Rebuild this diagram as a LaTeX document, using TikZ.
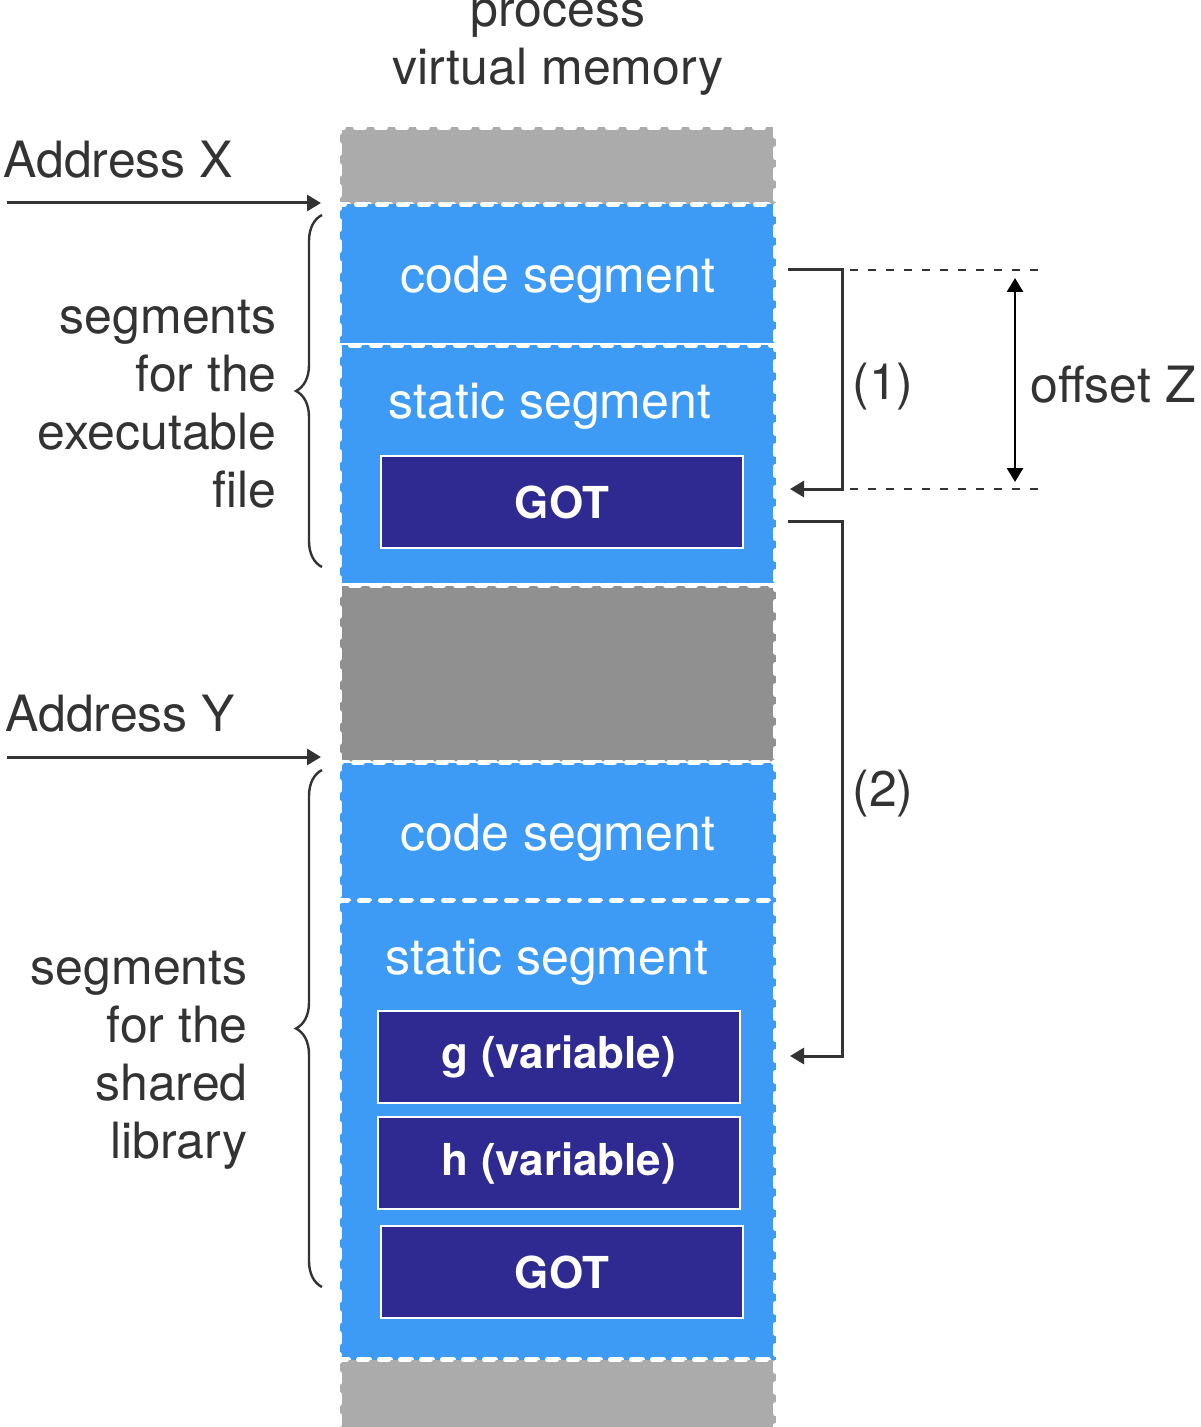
\documentclass[tikz,border=0pt]{standalone}
\usepackage{fontspec}
\setmainfont{TeX Gyre Heros}
\usetikzlibrary{arrows.meta,decorations.pathreplacing,positioning}

\definecolor{segblue}{HTML}{3D9AF5}
\definecolor{gapgray}{HTML}{ABABAB}
\definecolor{holegray}{HTML}{909090}
\definecolor{tblblue}{HTML}{2E2A92}
\definecolor{ink}{HTML}{333333}

\tikzset{
  seg/.style={anchor=north west, inner sep=0pt, minimum width=218pt,
    fill=segblue, draw=white, line width=2.5pt, line cap=round,
    dash pattern=on 4.5pt off 6pt},
  segtext/.style={text=white, inner sep=0pt, font=\fontsize{25}{30}\selectfont},
  tbl/.style={anchor=north west, inner sep=0pt, minimum width=181pt,
    minimum height=46pt, fill=tblblue, draw=white, line width=1pt,
    text=white, font=\bfseries\fontsize{22}{26}\selectfont},
  lbl/.style={text=ink, inner sep=0pt, font=\fontsize{25}{29}\selectfont},
  arr/.style={draw=ink, line width=1.5pt, -{Triangle[length=7pt,width=8pt]}},
  brc/.style={draw=ink, line width=1.2pt, decorate,
    decoration={brace, amplitude=13pt}},
  guide/.style={draw=ink, line width=1pt, dash pattern=on 4pt off 5pt}
}

\begin{document}
\begin{tikzpicture}[x=0.5pt,y=-0.5pt]
\useasboundingbox (0,0) rectangle (1200,1427);

% memory column
\node[seg, fill=gapgray, minimum height=38.5pt] (top) at (337,125) {};
\node[seg, minimum height=70.5pt] (code1) at (337,202) {};
\node[seg, minimum height=120pt] (static1) at (337,343) {};
\node[seg, fill=holegray, minimum height=88.5pt] (hole) at (337,583) {};
\node[seg, minimum height=69pt] (code2) at (337,760) {};
\node[seg, minimum height=229.5pt] (static2) at (337,898) {};
\node[seg, fill=gapgray, minimum height=40pt] (bottom) at (337,1357) {};

\node[segtext] (code1txt) at (558,280) {code segment};
\node[segtext] (static1txt) at (550,406) {static segment};
\node[tbl] (got1) at (380,455) {GOT};

\node[segtext] (code2txt) at (558,838) {code segment};
\node[segtext] (static2txt) at (547,962) {static segment};
\node[tbl] (gvar) at (377,1010) {g (variable)};
\node[tbl] (hvar) at (377,1116) {h (variable)};
\node[tbl] (got2) at (380,1225) {GOT};

\node[lbl, align=center] (title) at (558,47) {process\\virtual memory};

% left side
\node[lbl, anchor=west] (addrx) at (3,160) {Address X};
\coordinate (ax) at (7,203);
\draw[arr] (ax) -- ([xshift=-8pt,yshift=-0.5pt]code1.north west);
\draw[brc] (322,567) -- (322,215);
\node[lbl, align=right, anchor=east] (exelbl) at (277,404)
  {segments\\for the\\executable\\file};

\node[lbl, anchor=west] (addry) at (5,714) {Address Y};
\coordinate (ay) at (7,757);
\draw[arr] (ay) -- ([xshift=-8pt,yshift=1.5pt]code2.north west);
\draw[brc] (322,1287) -- (322,770);
\node[lbl, align=right, anchor=east] (liblbl) at (248,1060)
  {segments\\for the\\shared\\library};

% right side
\coordinate (b1s) at (788,270);
\coordinate (b1e) at (790,489);
\draw[arr] (b1s) -- ++(54,0) |- (b1e);
\node[lbl] (one) at (883,387) {(1)};
\draw[guide] (850,270) -- (1040,270);
\draw[guide] (850,489) -- (1040,489);
\coordinate (ztop) at (1015,278);
\coordinate (zbot) at (1015,482);
\draw[black, line width=1.4pt, {Triangle[length=7pt,width=8pt]}-{Triangle[length=7pt,width=8pt]}] (ztop) -- (zbot);
\node[lbl, anchor=west] (offz) at (1030,385) {offset Z};

\coordinate (b2s) at (788,521);
\coordinate (b2e) at (790,1056);
\draw[arr] (b2s) -- ++(54,0) |- (b2e);
\node[lbl] (two) at (883,794) {(2)};
\end{tikzpicture}
\end{document}
